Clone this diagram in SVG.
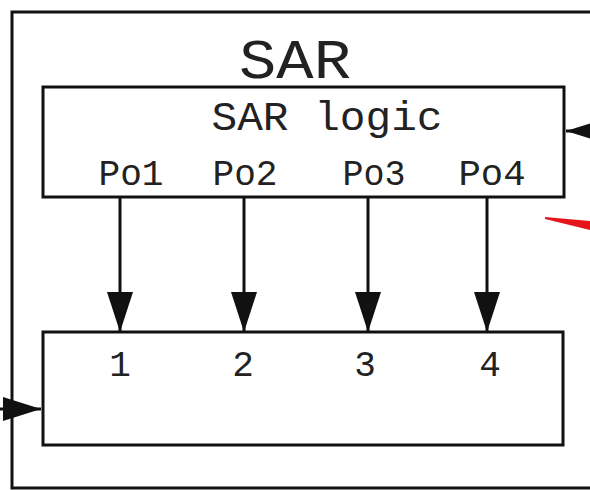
<svg xmlns="http://www.w3.org/2000/svg" width="590" height="490" viewBox="0 0 590 490">
<style>
.box{fill:none;stroke:#111;stroke-width:3}
.t{font-family:"Courier New","Liberation Mono",monospace;fill:#222;text-anchor:middle}
.c{stroke:#111;stroke-width:3;fill:none}
</style>
<defs>
<marker id="ah" markerUnits="userSpaceOnUse" markerWidth="40" markerHeight="26" refX="40" refY="13" orient="auto">
<path d="M0,0 L40,13 L0,26 Z" fill="#111"/>
</marker>
<marker id="ah2" markerUnits="userSpaceOnUse" markerWidth="38" markerHeight="24" refX="38" refY="12" orient="auto">
<path d="M0,0 L38,12 L0,24 Z" fill="#111"/>
</marker>
</defs>
<rect width="590" height="490" fill="#fff"/>
<g id="sar">
<rect class="box" x="12" y="12" width="600" height="476"/>
<text class="t" x="295" y="78" font-size="56" textLength="112" lengthAdjust="spacingAndGlyphs">SAR</text>
</g>
<g id="sar-logic">
<rect class="box" x="43" y="87" width="521" height="110"/>
<text class="t" x="327" y="130" font-size="40" textLength="231" lengthAdjust="spacingAndGlyphs">SAR logic</text>
<text class="t" x="131" y="185" font-size="36" textLength="65" lengthAdjust="spacingAndGlyphs">Po1</text>
<text class="t" x="245" y="185" font-size="36" textLength="65" lengthAdjust="spacingAndGlyphs">Po2</text>
<text class="t" x="374" y="185" font-size="36" textLength="63" lengthAdjust="spacingAndGlyphs">Po3</text>
<text class="t" x="492" y="185" font-size="36" textLength="67" lengthAdjust="spacingAndGlyphs">Po4</text>
</g>
<g id="register">
<rect class="box" x="43" y="332" width="520" height="113"/>
<text class="t" x="120" y="376" font-size="36">1</text>
<text class="t" x="243" y="376" font-size="36">2</text>
<text class="t" x="365" y="376" font-size="36">3</text>
<text class="t" x="490" y="376" font-size="36">4</text>
</g>
<g id="connectors">
<line class="c" x1="120" y1="197" x2="120" y2="332" marker-end="url(#ah)"/>
<line class="c" x1="244" y1="197" x2="244" y2="332" marker-end="url(#ah)"/>
<line class="c" x1="368" y1="197" x2="368" y2="332" marker-end="url(#ah)"/>
<line class="c" x1="487" y1="197" x2="487" y2="332" marker-end="url(#ah)"/>
<line class="c" x1="-10" y1="409" x2="41" y2="409" marker-end="url(#ah2)"/>
<line class="c" x1="610" y1="131" x2="566" y2="131" marker-end="url(#ah2)"/>
<polygon points="545,217 590,221 590,230 545,219" fill="#e8141c"/>
</g>
</svg>
